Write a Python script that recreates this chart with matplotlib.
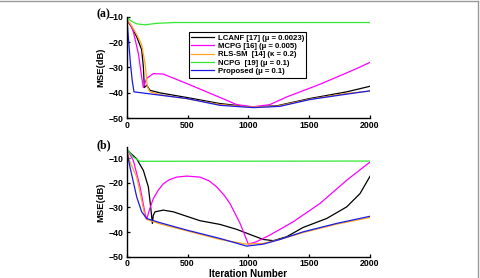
import matplotlib
matplotlib.use("Agg")
import matplotlib.pyplot as plt
from matplotlib.lines import Line2D

plt.rcParams['font.family'] = ['Liberation Sans', 'DejaVu Sans']

labels = ['LCANF [17] (μ = 0.0023)', 'MCPG [16] (μ = 0.005)',
          'RLS-SM  [14] (κ = 0.2)', 'NCPG  [19] (μ = 0.1)',
          'Proposed (μ = 0.1)']
colors = ['#000000', '#ff00ff', '#ffa520', '#33e633', '#1a1ae6']

# panel (a): iteration / MSE(dB) pairs
a_lcanf_x = [0, 40, 82, 123, 137, 145, 164, 192, 274, 493, 767, 1014, 1233, 1507, 1808, 2000]
a_lcanf_y = [-11.3, -14, -17.9, -23, -29.7, -37.9, -37, -39, -40, -41.8, -44.2, -45.5, -45.1, -42.2, -39.6, -37.4]
a_mcpg_x = [0, 30, 55, 96, 123, 137, 164, 219, 301, 493, 767, 904, 1041, 1178, 1315, 1589, 1863, 2000]
a_mcpg_y = [-11, -13, -16, -24.5, -33.7, -37.9, -34.3, -32.4, -32.6, -36.3, -41.8, -44.6, -45.5, -44.6, -41.6, -36.6, -31, -28]
a_rls_x = [0, 40, 82, 123, 151, 170, 192, 274, 493, 767, 1014, 1233, 1507, 1808, 2000]
a_rls_y = [-11, -13.5, -17, -21, -28.4, -37.6, -39.6, -40.7, -42.3, -44.6, -45.6, -45.3, -42.5, -40.2, -39.3]
a_ncpg_x = [0, 30, 80, 150, 250, 400, 2000]
a_ncpg_y = [-10, -11.5, -12.8, -13.2, -12.6, -12.3, -12.3]
a_prop_x = [0, 15, 30, 45, 60, 110, 274, 493, 767, 1041, 1260, 1507, 1808, 2000]
a_prop_y = [-10, -19, -28, -35, -39.6, -39.9, -40.9, -42.2, -44.9, -45.8, -45.3, -42.6, -40.5, -39.2]

# panel (b)
b_lcanf_x = [0, 82, 137, 178, 197, 211, 219, 233, 301, 384, 493, 603, 767, 904, 1041, 1123, 1205, 1315, 1452, 1644, 1808, 1918, 2000]
b_lcanf_y = [-6.6, -10.3, -15, -21.7, -29.8, -36.5, -33.1, -31.8, -31.1, -31.8, -33.6, -35.4, -36.9, -38.9, -41.5, -43, -43.5, -41.9, -38.1, -34.5, -29.8, -24.4, -17.4]
b_mcpg_x = [0, 55, 110, 151, 164, 190, 219, 260, 301, 350, 411, 493, 603, 680, 740, 800, 849, 932, 1000, 1068, 1178, 1370, 1589, 1808, 2000]
b_mcpg_y = [-6.2, -11, -21.7, -32.5, -34.9, -30.5, -26.4, -23, -20.4, -18.8, -17.7, -17.3, -17.7, -19.3, -21.7, -25, -28.4, -36.5, -44.9, -43.9, -41.2, -35.8, -28.4, -19, -11.6]
b_rls_x = [0, 27, 82, 123, 151, 164, 274, 493, 767, 986, 1123, 1260, 1452, 1726, 2000]
b_rls_y = [-6.6, -11.6, -17.7, -27.1, -33.8, -34.9, -36.7, -39.5, -43, -44.9, -44.6, -43, -40.2, -36.8, -34.1]
b_ncpg_x = [0, 50, 110, 2000]
b_ncpg_y = [-6.2, -9.5, -11.3, -11.2]
b_prop_x = [0, 27, 82, 123, 164, 274, 493, 767, 986, 1123, 1260, 1452, 1726, 2000]
b_prop_y = [-6.9, -13.6, -25.7, -31.8, -34.5, -36.2, -39.2, -42.6, -45.7, -44.9, -43, -39.9, -36.5, -33.6]

xticks = [0, 500, 1000, 1500, 2000]
yticks = [-50, -40, -30, -20, -10]

fig = plt.figure(figsize=(4.81, 2.78), dpi=100)
ax_a = fig.add_axes([0.2634, 0.5745, 0.5058, 0.3655])
ax_b = fig.add_axes([0.2634, 0.0766, 0.5058, 0.3946])

series_a = [(a_lcanf_x, a_lcanf_y), (a_mcpg_x, a_mcpg_y), (a_rls_x, a_rls_y),
            (a_ncpg_x, a_ncpg_y), (a_prop_x, a_prop_y)]
series_b = [(b_lcanf_x, b_lcanf_y), (b_mcpg_x, b_mcpg_y), (b_rls_x, b_rls_y),
            (b_ncpg_x, b_ncpg_y), (b_prop_x, b_prop_y)]

for ax, series, top in [(ax_a, series_a, -10), (ax_b, series_b, -5.5)]:
    for (xs, ys), c, lab in zip(series, colors, labels):
        ax.plot(xs, ys, color=c, lw=0.9, label=lab)
    ax.set_xlim(0, 2000)
    ax.set_ylim(-50, top)
    ax.set_xticks(xticks)
    ax.set_yticks(yticks)
    ax.tick_params(direction='in', length=2, width=0.9, labelsize=6.3, pad=2)
    for t in ax.get_xticklabels() + ax.get_yticklabels():
        t.set_fontweight('bold')
    ax.spines['top'].set_visible(False)
    ax.spines['right'].set_visible(False)
    ax.spines['left'].set_linewidth(1.0)
    ax.spines['bottom'].set_linewidth(1.0)
    ax.set_ylabel('MSE(dB)', fontsize=6.8, fontweight='bold', labelpad=3)

ax_b.set_xlabel('Iteration Number', fontsize=7, fontweight='bold', labelpad=0.5)

leg = ax_a.legend(loc='upper left', bbox_to_anchor=(0.255, 0.85),
                  prop={'weight': 'bold', 'size': 5.6}, handlelength=2.9,
                  borderpad=0.3, labelspacing=0.12, handletextpad=0.5,
                  borderaxespad=0, fancybox=False, framealpha=1)
leg.get_frame().set_edgecolor('black')
leg.get_frame().set_linewidth(0.8)

fig.text(0.200, 0.948, '(a)', fontsize=8.5, fontweight='bold', family='Liberation Serif', va='center')
fig.text(0.200, 0.478, '(b)', fontsize=8.5, fontweight='bold', family='Liberation Serif', va='center')

# grey frame along top and right edges
fig.add_artist(Line2D([0, 0.994], [0.995, 0.995], transform=fig.transFigure, color='#999999', lw=1))
fig.add_artist(Line2D([0.994, 0.994], [0, 0.995], transform=fig.transFigure, color='#999999', lw=1))

fig.savefig('out.png', dpi=100)
